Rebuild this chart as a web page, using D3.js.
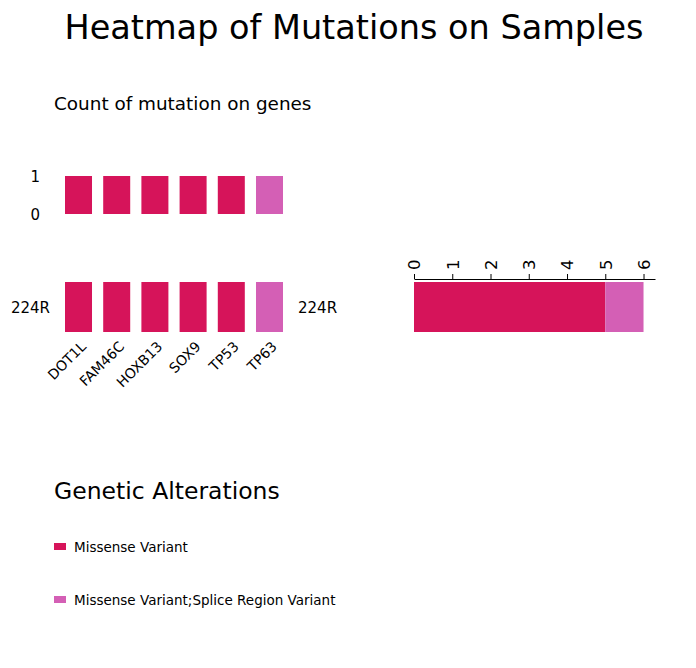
<!DOCTYPE html>
<html>
<head>
<meta charset="utf-8">
<script src="https://cdn.jsdelivr.net/npm/d3@7"></script>
<style>
  body { margin: 0; background: white; }
  text { font-family: "DejaVu Sans", sans-serif; fill: #000; }
</style>
</head>
<body>
<div class="canvas"></div>
<script>
// Data
const genes = ['DOT1L', 'FAM46C', 'HOXB13', 'SOX9', 'TP53', 'TP63']
const geneCounts = [1, 1, 1, 1, 1, 1]
const geneAlteration = ['Missense Variant', 'Missense Variant', 'Missense Variant', 'Missense Variant', 'Missense Variant', 'Missense Variant;Splice Region Variant']
const samples = ['224R']
const alterationTypes = ['Missense Variant', 'Missense Variant;Splice Region Variant']
const sampleCounts = [5, 1]
const countTicks = [0, 1]
const sampleTicks = [0, 1, 2, 3, 4, 5, 6]
const colors = ['#d6145a', '#d45fb5']

const svg = d3.select('.canvas')
  .append('svg')
  .attr('width', 696)
  .attr('height', 668)

const color = d3.scaleOrdinal().domain(alterationTypes).range(colors)

// Titles
svg.append('text')
  .attr('x', 354)
  .attr('y', 39)
  .attr('text-anchor', 'middle')
  .attr('font-size', 33.5)
  .text('Heatmap of Mutations on Samples')

svg.append('text')
  .attr('x', 54)
  .attr('y', 110)
  .attr('font-size', 18.4)
  .text('Count of mutation on genes')

// Shared gene scale
const x = d3.scaleBand()
  .domain(genes)
  .range([65, 283])
  .paddingInner(0.293)
  .paddingOuter(0)

// Top count bars
const yCount = d3.scaleLinear().domain([0, 1]).range([214, 176])

svg.append('g').selectAll('rect')
  .data(genes)
  .enter()
  .append('rect')
  .attr('x', d => x(d))
  .attr('width', x.bandwidth())
  .attr('y', (d, i) => yCount(geneCounts[i]))
  .attr('height', (d, i) => yCount(0) - yCount(geneCounts[i]))
  .attr('fill', (d, i) => color(geneAlteration[i]))

svg.append('g').selectAll('text')
  .data(countTicks)
  .enter()
  .append('text')
  .attr('x', 40)
  .attr('y', d => yCount(d) + 1)
  .attr('dy', '0.35em')
  .attr('text-anchor', 'end')
  .attr('font-size', 15)
  .text(d => d)

// Heatmap rows
const yRow = d3.scaleBand().domain(samples).range([282, 332])

svg.append('g').selectAll('rect')
  .data(genes)
  .enter()
  .append('rect')
  .attr('x', d => x(d))
  .attr('width', x.bandwidth())
  .attr('y', yRow(samples[0]))
  .attr('height', yRow.bandwidth())
  .attr('fill', (d, i) => color(geneAlteration[i]))

svg.append('g').selectAll('text')
  .data(samples)
  .enter()
  .append('text')
  .attr('x', 50)
  .attr('y', d => yRow(d) + yRow.bandwidth() / 2 + 1)
  .attr('dy', '0.35em')
  .attr('text-anchor', 'end')
  .attr('font-size', 15)
  .text(d => d)

svg.append('g').selectAll('text')
  .data(samples)
  .enter()
  .append('text')
  .attr('x', 298)
  .attr('y', d => yRow(d) + yRow.bandwidth() / 2 + 1)
  .attr('dy', '0.35em')
  .attr('font-size', 15)
  .text(d => d)

// Gene labels
svg.append('g').selectAll('text')
  .data(genes)
  .enter()
  .append('text')
  .attr('transform', d => `translate(${x(d) + x.bandwidth() / 2 + 1}, 340) rotate(-45)`)
  .attr('text-anchor', 'end')
  .attr('dy', '0.75em')
  .attr('font-size', 14)
  .text(d => d)

// Stacked bar per sample
const xs = d3.scaleLinear().domain([0, 6.3]).range([414, 655])
const stackStart = d3.cumsum([0].concat(sampleCounts))

const axisGroup = svg.append('g').attr('transform', 'translate(0, 279)')
axisGroup.call(d3.axisTop(xs).tickValues(sampleTicks).tickFormat(d3.format('d')).tickSize(5).tickSizeOuter(0))
axisGroup.select('.domain').attr('stroke', '#000')
axisGroup.selectAll('.tick line').attr('stroke', '#000')
axisGroup.selectAll('.tick text')
  .attr('font-size', 16.5)
  .attr('font-family', 'DejaVu Sans')
  .attr('fill', '#000')
  .attr('transform', 'rotate(-90)')
  .attr('text-anchor', 'start')
  .attr('x', 9)
  .attr('y', 0)
  .attr('dy', '0.35em')

svg.append('g').selectAll('rect')
  .data(alterationTypes)
  .enter()
  .append('rect')
  .attr('x', (d, i) => xs(stackStart[i]))
  .attr('width', (d, i) => xs(sampleCounts[i]) - xs(0))
  .attr('y', yRow(samples[0]))
  .attr('height', yRow.bandwidth())
  .attr('fill', d => color(d))

// Legend
svg.append('text')
  .attr('x', 54)
  .attr('y', 499)
  .attr('font-size', 23.5)
  .text('Genetic Alterations')

const legend = svg.append('g').selectAll('g')
  .data(alterationTypes)
  .enter()
  .append('g')
  .attr('transform', (d, i) => `translate(54, ${543 + i * 53})`)

legend.append('rect')
  .attr('width', 12)
  .attr('height', 7)
  .attr('fill', d => color(d))

legend.append('text')
  .attr('x', 20)
  .attr('y', 4)
  .attr('dy', '0.35em')
  .attr('font-size', 13.5)
  .text(d => d)
</script>
</body>
</html>
